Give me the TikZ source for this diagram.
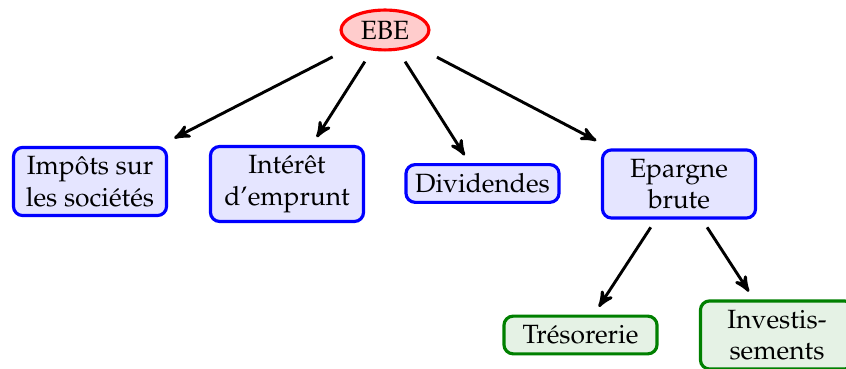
\documentclass[tikz,border=0pt]{standalone}
\usepackage[T1]{fontenc}
\usepackage{mathpazo}
\usetikzlibrary{shapes.geometric,arrows}
\begin{document}
\begin{tikzpicture}[x=0.3788pt,y=-0.3788pt,
  box/.style={draw=blue, fill=blue!10, very thick, rounded corners=3.5pt, align=center,
    minimum width=58pt, minimum height=14.3pt, outer sep=3.5pt, inner sep=3.333pt},
  leaf/.style={box, draw=green!50!black, fill=green!50!black!10},
  root/.style={ellipse, draw=red, fill=red!20, very thick, minimum width=33.3pt,
    minimum height=15.1pt, inner sep=0pt, outer sep=0pt},
  arr/.style={->, >=stealth', line width=1.1pt},
  ]
\useasboundingbox (0,0) rectangle (846,369);
\node[root] (ebe) at (385,30) {EBE};
\node[box] (impots) at (90,181.5) {Impôts sur\\les sociétés};
\node[box] (interet) at (287,184) {Intérêt\\d'emprunt};
\node[box] (divid) at (482.5,183.5) {Dividendes};
\node[box] (epargne) at (679,184) {Epargne\\brute};
\node[leaf] (treso) at (580.5,335) {Trésorerie};
\node[leaf] (invest) at (777,335) {Investis-\\sements};
\draw[arr, shorten <=9.9pt] (ebe) -- (impots);
\draw[arr, shorten <=5.6pt] (ebe) -- (interet);
\draw[arr, shorten <=5.6pt] (ebe) -- (divid);
\draw[arr, shorten <=9.9pt] (ebe) -- (epargne);
\draw[arr] (epargne) -- (treso);
\draw[arr] (epargne) -- (invest);
\end{tikzpicture}
\end{document}
